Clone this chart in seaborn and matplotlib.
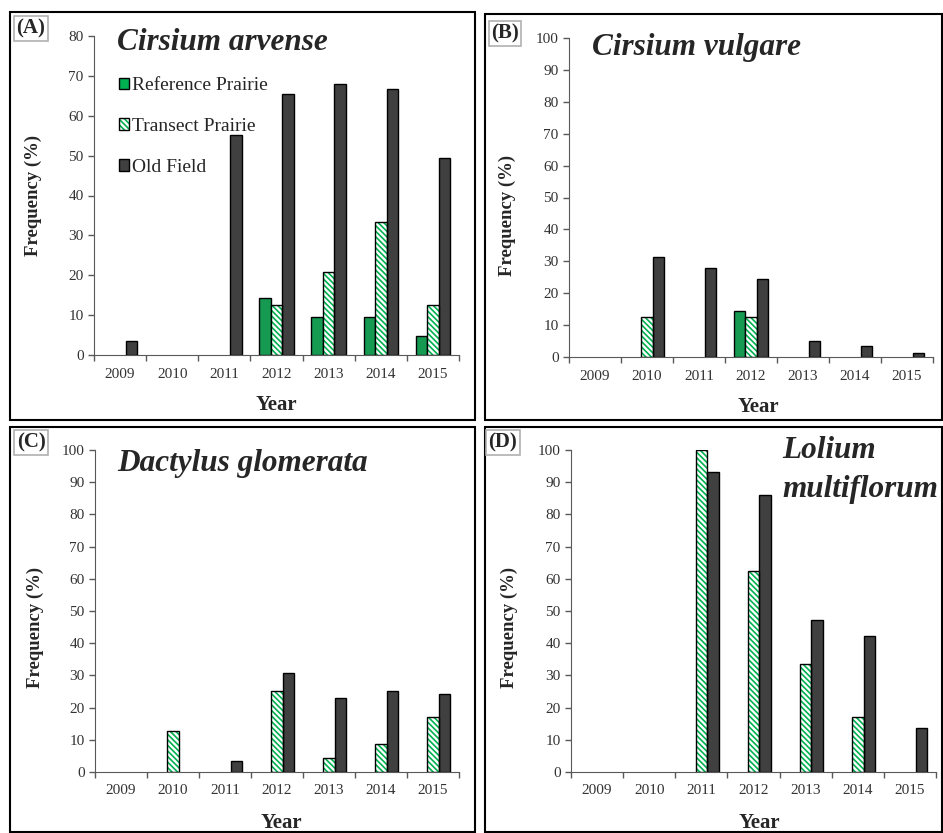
import pandas as pd
import seaborn as sns
import matplotlib.pyplot as plt
from matplotlib.patches import Rectangle, Patch
from matplotlib.legend_handler import HandlerTuple

# Data
years = ['2009', '2010', '2011', '2012', '2013', '2014', '2015']
groups = ['Reference Prairie', 'Transect Prairie', 'Old Field']

arvense_ref = [0, 0, 0, 14.3, 9.5, 9.5, 4.8]
arvense_tra = [0, 0, 0, 12.5, 20.8, 33.3, 12.5]
arvense_old = [3.6, 0, 55.2, 65.5, 67.9, 66.7, 49.4]

vulgare_ref = [0, 0, 0, 14.3, 0, 0, 0]
vulgare_tra = [0, 12.5, 0, 12.5, 0, 0, 0]
vulgare_old = [0, 31.2, 27.9, 24.4, 4.9, 3.4, 1.2]

dactylus_ref = [0, 0, 0, 0, 0, 0, 0]
dactylus_tra = [0, 12.8, 0, 25.3, 4.2, 8.6, 17.0]
dactylus_old = [0, 0, 3.4, 30.7, 23.0, 25.2, 24.1]

lolium_ref = [0, 0, 0, 0, 0, 0, 0]
lolium_tra = [0, 0, 100, 62.5, 33.4, 17.0, 0]
lolium_old = [0, 0, 93.1, 86.0, 47.1, 42.3, 13.7]

GREEN = '#00B050'
DARK = '#404040'
GRAY = '#595959'
HATCH = '\\\\\\\\\\\\'

sns.set_style('ticks')
plt.rcParams['font.family'] = ['Liberation Serif', 'DejaVu Serif']
plt.rcParams['hatch.linewidth'] = 1.2

W, H = 943, 833
fig = plt.figure(figsize=(W / 100, H / 100), dpi=100)


def fx(x):
    return x / W


def fy(y):
    return 1 - y / H


def make_df(ref, tra, old):
    rows = []
    for g, vals in zip(groups, [ref, tra, old]):
        for yr, v in zip(years, vals):
            rows.append({'year': yr, 'group': g, 'freq': v})
    return pd.DataFrame(rows)


def draw_panel(box, data, ymax):
    left, top, right, bottom = box
    ax = fig.add_axes([fx(left), fy(bottom), fx(right - left), (bottom - top) / H])
    df = make_df(*data)
    sns.barplot(data=df, x='year', y='freq', hue='group', hue_order=groups,
                order=years, palette=[GREEN, 'white', DARK], width=0.66,
                edgecolor='black', linewidth=1.0, legend=False, ax=ax)
    # hide empty bars
    for cont in ax.containers:
        for p in cont:
            if p.get_height() <= 0:
                p.set_visible(False)
    # transect prairie: green diagonal hatch with black outline
    for p in ax.containers[1]:
        p.set_hatch(HATCH)
        p.set_edgecolor(GREEN)
        p.set_linewidth(0)
        if p.get_height() > 0:
            ax.add_patch(Rectangle((p.get_x(), 0), p.get_width(), p.get_height(),
                                   fill=False, edgecolor='black', lw=1.0, zorder=3))
    ax.set_xlim(-0.5, 6.5)
    ax.set_ylim(0, ymax)
    ax.set_yticks(range(0, ymax + 1, 10))
    ax.set_xticks([i - 0.5 for i in range(8)])
    ax.set_xticklabels([])
    ax.set_xticks(range(7), minor=True)
    ax.set_xticklabels(years, minor=True)
    ax.tick_params(axis='x', which='minor', length=0, pad=9)
    ax.tick_params(axis='both', which='major', direction='out', length=4,
                   color=GRAY, width=1)
    ax.tick_params(axis='both', which='both', labelsize=11, labelcolor='#333333')
    ax.set_xlabel('')
    ax.set_ylabel('')
    for s in ['left', 'bottom']:
        ax.spines[s].set_color(GRAY)
    sns.despine(ax=ax)
    return ax


axA = draw_panel((94, 36, 459, 355), (arvense_ref, arvense_tra, arvense_old), 80)
axB = draw_panel((569, 38, 933, 357), (vulgare_ref, vulgare_tra, vulgare_old), 100)
axC = draw_panel((95, 450, 459, 772), (dactylus_ref, dactylus_tra, dactylus_old), 100)
axD = draw_panel((571, 450, 936, 772), (lolium_ref, lolium_tra, lolium_old), 100)

# legend in panel A
h_ref = Patch(facecolor=GREEN, edgecolor='black', lw=1.0)
h_tra = (Patch(facecolor='white', edgecolor=GREEN, hatch=HATCH, lw=0),
         Patch(fill=False, edgecolor='black', lw=1.0))
h_old = Patch(facecolor=DARK, edgecolor='black', lw=1.0)
axA.legend([h_ref, h_tra, h_old], groups, loc='upper left',
           bbox_to_anchor=(0.02, 0.925), frameon=False, fontsize=14,
           handlelength=0.55, handleheight=0.55, handletextpad=0.15,
           labelspacing=1.22, handler_map={tuple: HandlerTuple(ndivide=1)})

# panel frames
for (l, t, r, b) in [(10, 12, 475, 420), (485, 14, 942, 420),
                     (10, 427, 475, 832), (485, 427, 942, 832)]:
    fig.add_artist(Rectangle((fx(l), fy(b)), fx(r - l), (b - t) / H,
                             transform=fig.transFigure, fill=False,
                             edgecolor='black', lw=1.5))

# panel letters
for lab, x, y in [('(A)', 31, 28), ('(B)', 505, 33), ('(C)', 31, 442), ('(D)', 503, 442)]:
    fig.text(fx(x), fy(y), lab, ha='center', va='center', fontsize=15,
             fontweight='bold',
             bbox=dict(boxstyle='square,pad=0.12', fc='white', ec='#b0b0b0', lw=1.2))

# species names
for name, x, y in [('Cirsium arvense', 117, 42), ('Cirsium vulgare', 592, 47),
                   ('Dactylus glomerata', 117, 463), ('Lolium', 782, 450),
                   ('multiflorum', 782, 490)]:
    fig.text(fx(x), fy(y), name, ha='left', va='center', fontsize=22.5,
             fontweight='bold', fontstyle='italic')

# axis titles
for x, y in [(33, 195), (507, 215), (35, 627), (509, 627)]:
    fig.text(fx(x), fy(y), 'Frequency (%)', rotation=90, ha='center',
             va='center', fontsize=13.5, fontweight='bold')
for x, y in [(276, 405), (758, 407), (281, 823), (759, 823)]:
    fig.text(fx(x), fy(y), 'Year', ha='center', va='center', fontsize=15,
             fontweight='bold')

plt.savefig('out.png', dpi=100)
